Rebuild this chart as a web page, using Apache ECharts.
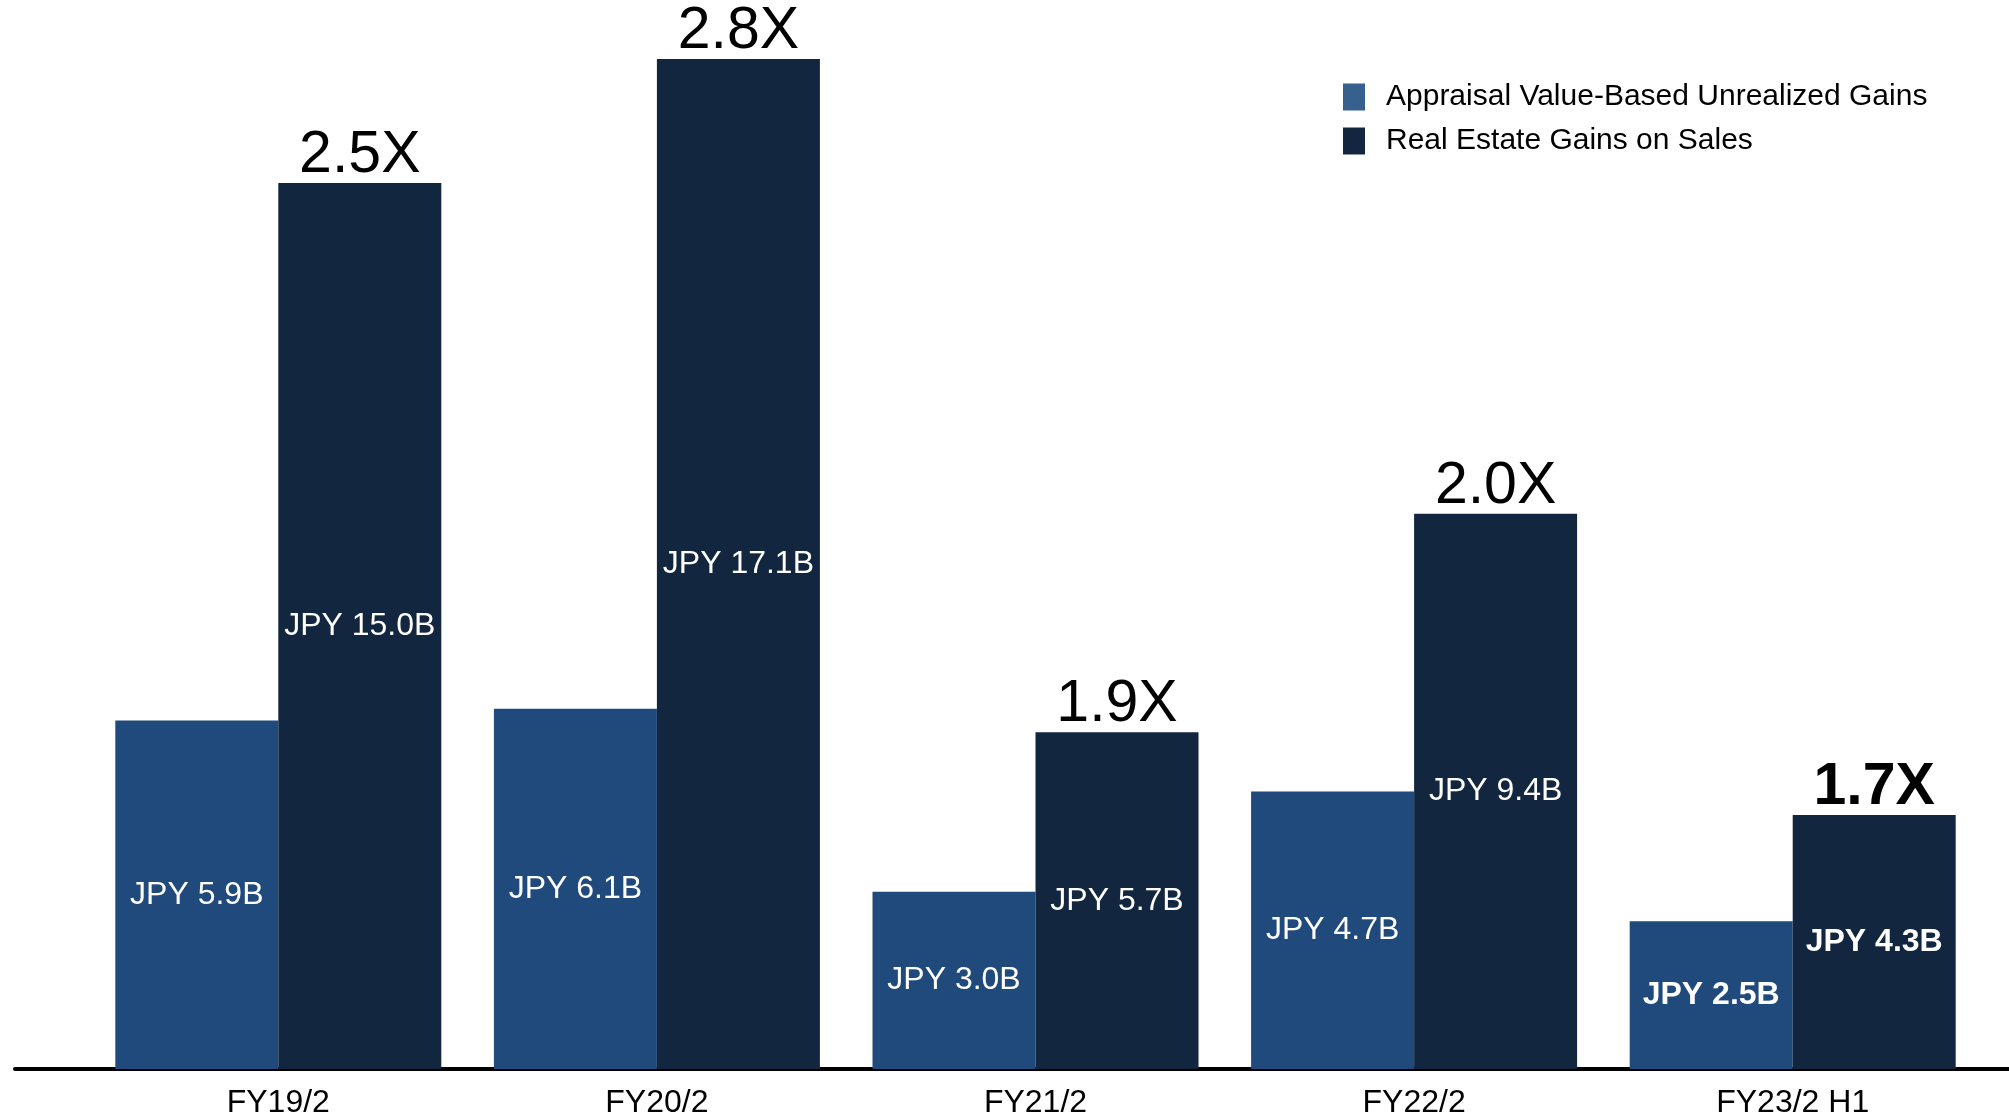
<!DOCTYPE html>
<html>
<head>
<meta charset="utf-8">
<script src="https://cdn.jsdelivr.net/npm/echarts@6/dist/echarts.min.js"></script>
<style>
html,body{margin:0;padding:0;background:#fff;}
#chart{width:2009px;height:1117px;}
</style>
</head>
<body>
<div id="chart"></div>
<script>
const categories = ['FY19/2', 'FY20/2', 'FY21/2', 'FY22/2', 'FY23/2 H1'];
const appraisalGains = [5.9, 6.1, 3.0, 4.7, 2.5];
const salesGains = [15.0, 17.1, 5.7, 9.4, 4.3];
const ratioLabels = ['2.5X', '2.8X', '1.9X', '2.0X', '1.7X'];
const boldItems = [false, false, false, false, true];
const seriesNames = ['Appraisal Value-Based Unrealized Gains', 'Real Estate Gains on Sales'];

const FONT = '"Liberation Sans", Arial, Helvetica, sans-serif';
const LIGHT = '#20497c';
const DARK = '#12263f';

function valueItems(arr) {
  return arr.map((v, i) => ({
    value: v,
    label: { fontWeight: boldItems[i] ? 'bold' : 'normal' }
  }));
}

const chart = echarts.init(document.getElementById('chart'), null, { renderer: 'canvas' });
chart.setOption({
  animation: false,
  backgroundColor: '#ffffff',
  textStyle: { fontFamily: FONT },
  grid: [
    { left: 89, right: 27, top: 0, bottom: 48, containLabel: false, outerBoundsMode: 'none' },
    { left: 15, right: 0, top: 0, bottom: 48, containLabel: false, outerBoundsMode: 'none' }
  ],
  legend: {
    orient: 'vertical',
    left: 1343,
    top: 82,
    padding: 0,
    itemWidth: 22,
    itemHeight: 27,
    itemGap: 14,
    selectedMode: false,
    textStyle: { fontFamily: FONT, fontSize: 30, color: '#000', padding: [0, 0, 0, 16] },
    data: [
      { name: seriesNames[0], icon: 'rect', itemStyle: { color: '#37608f' } },
      { name: seriesNames[1], icon: 'rect', itemStyle: { color: DARK } }
    ]
  },
  xAxis: [
    {
      type: 'category',
      gridIndex: 0,
      data: categories,
      axisLine: { show: false },
      axisTick: { show: false },
      axisLabel: { fontFamily: FONT, fontSize: 32, color: '#000', margin: 18 }
    },
    {
      type: 'category',
      gridIndex: 1,
      data: [''],
      axisLine: { show: true, lineStyle: { color: '#000', width: 4 } },
      axisTick: { show: false },
      axisLabel: { show: false }
    }
  ],
  yAxis: [
    { type: 'value', gridIndex: 0, min: 0, max: 18.1, show: false, splitLine: { show: false } },
    { type: 'value', gridIndex: 1, min: 0, max: 18.1, show: false, splitLine: { show: false } }
  ],
  series: [
    {
      name: seriesNames[0],
      type: 'bar',
      xAxisIndex: 0, yAxisIndex: 0,
      barWidth: 163,
      barGap: '0%',
      itemStyle: { color: LIGHT },
      label: {
        show: true, position: 'inside', color: '#fff', fontFamily: FONT, fontSize: 32,
        formatter: p => 'JPY ' + p.value.toFixed(1) + 'B'
      },
      data: valueItems(appraisalGains)
    },
    {
      name: seriesNames[1],
      type: 'bar',
      stack: 'sales',
      xAxisIndex: 0, yAxisIndex: 0,
      barWidth: 163,
      barGap: '0%',
      itemStyle: { color: DARK },
      label: {
        show: true, position: 'inside', color: '#fff', fontFamily: FONT, fontSize: 32,
        formatter: p => 'JPY ' + p.value.toFixed(1) + 'B'
      },
      data: valueItems(salesGains)
    },
    {
      name: 'ratio',
      type: 'bar',
      stack: 'sales',
      xAxisIndex: 0, yAxisIndex: 0,
      barWidth: 163,
      barGap: '0%',
      itemStyle: { color: 'rgba(0,0,0,0)' },
      label: {
        show: true, position: 'top', distance: -2, color: '#000', fontFamily: FONT, fontSize: 59,
        formatter: p => ratioLabels[p.dataIndex]
      },
      data: ratioLabels.map((r, i) => ({ value: 0, label: { fontWeight: boldItems[i] ? 'bold' : 'normal' } }))
    },
    {
      name: 'axisline',
      type: 'bar',
      xAxisIndex: 1, yAxisIndex: 1,
      data: [],
      silent: true
    }
  ]
});
</script>
</body>
</html>
